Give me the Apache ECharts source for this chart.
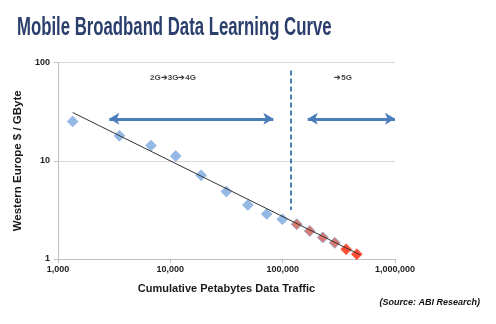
<!DOCTYPE html>
<html>
<head>
<meta charset="utf-8">
<script src="https://cdn.jsdelivr.net/npm/echarts@6/dist/echarts.min.js"></script>
<style>html,body{margin:0;padding:0;background:#fff}#c{width:496px;height:324px}</style>
</head>
<body>
<div id="c"></div>
<script>
// ---- data ----
var blueX = [1350, 3520, 6730, 11170, 18770, 31540, 49000, 72200, 99400];
var blueY = [25.2, 18.0, 14.3, 11.2, 7.14, 4.86, 3.56, 2.88, 2.54];
var redX = [133400, 174300, 227500, 291000];
var redY = [2.26, 1.93, 1.66, 1.46];
var brightRedX = [367000, 457000];
var brightRedY = [1.26, 1.12];
var trendX = [1350, 490000];
var trendY = [31.1, 1.1];
var dividerX = 117200;
var dividerY = [83.4, 3.16];
var arrowLeftX = [2864, 82600];
var arrowRightX = [167200, 999000];
var arrowY = 26.8;
var annotationText = ['2G\u27943G\u27944G', '\u27945G'];
var annotationX = [10570, 345000];
var annotationY = [70.3, 70.3];
var xTicks = [1000, 10000, 100000, 1000000];
var yTicks = [1, 10, 100];

function pairs(xs, ys) { return xs.map(function (x, i) { return [x, ys[i]]; }); }

var chart = echarts.init(document.getElementById('c'));
var font = 'Liberation Sans, Arial, sans-serif';
chart.setOption({
  animation: false,
  backgroundColor: '#fff',
  grid: { left: 58, right: 101, top: 62.7, bottom: 65 },
  xAxis: {
    type: 'log', logBase: 10, min: xTicks[0], max: xTicks[xTicks.length - 1],
    name: 'Cumulative Petabytes Data Traffic', nameLocation: 'middle', nameGap: 24,
    nameTextStyle: { fontFamily: font, fontWeight: 'bold', fontSize: 11, color: '#1a1a1a' },
    axisLine: { show: true, lineStyle: { color: '#bfbfbf', width: 1 } },
    axisTick: { show: true, length: 4, lineStyle: { color: '#bfbfbf' } },
    minorTick: { show: false },
    splitLine: { show: false },
    axisLabel: { fontFamily: font, fontWeight: 'bold', fontSize: 9, color: '#222', margin: 6,
      formatter: function (v) { return Math.round(v).toLocaleString('en-US'); } }
  },
  yAxis: {
    type: 'log', logBase: 10, min: yTicks[0], max: yTicks[yTicks.length - 1],
    name: 'Western Europe $ / GByte', nameLocation: 'middle', nameGap: 28, nameRotate: 90,
    nameTextStyle: { fontFamily: font, fontWeight: 'bold', fontSize: 11.5, color: '#1a1a1a' },
    axisLine: { show: true, lineStyle: { color: '#bfbfbf', width: 1 } },
    axisTick: { show: true, length: 4, lineStyle: { color: '#bfbfbf' } },
    splitLine: { show: true, lineStyle: { color: '#d9d9d9', width: 1 } },
    axisLabel: { fontFamily: font, fontWeight: 'bold', fontSize: 9, color: '#222', margin: 8 }
  },
  graphic: [
    { type: 'text', x: 17, y: 28, scaleX: 0.67, scaleY: 1,
      style: { text: 'Mobile Broadband Data Learning Curve', fontFamily: font, fontWeight: 'bold',
        fontSize: 25, fill: '#2b3e6c', textVerticalAlign: 'middle', textAlign: 'left' } },
    { type: 'text', x: 480, y: 303,
      style: { text: '(Source: ABI Research)', fontFamily: font, fontWeight: 'bold', fontStyle: 'italic',
        fontSize: 9, fill: '#111', textAlign: 'right', textVerticalAlign: 'middle' } }
  ],
  series: [
    {
      type: 'scatter', name: 'history', symbol: 'diamond', symbolSize: 11,
      itemStyle: { color: '#7aa8df', borderColor: '#6d9bd3', borderWidth: 0.5 },
      data: pairs(blueX, blueY), z: 3
    },
    {
      type: 'scatter', name: 'forecast', symbol: 'diamond', symbolSize: 11,
      itemStyle: { color: '#cf5a4c', borderColor: '#86a9d8', borderWidth: 1 },
      data: pairs(redX, redY), z: 3
    },
    {
      type: 'scatter', name: 'forecast2', symbol: 'diamond', symbolSize: 11,
      itemStyle: { color: '#ff2200', borderColor: '#e8331c', borderWidth: 0.5 },
      data: pairs(brightRedX, brightRedY), z: 3
    },
    {
      type: 'line', name: 'trend', symbol: 'none', z: 4, clip: false,
      lineStyle: { color: '#333', width: 1 },
      data: pairs(trendX, trendY),
      markLine: {
        silent: true, animation: false, symbol: 'none',
        label: { show: false },
        lineStyle: { color: '#4a7ebb', width: 2, type: [5, 3] },
        data: [[{ coord: [dividerX, dividerY[0]] }, { coord: [dividerX, dividerY[1]] }]]
      }
    },
    {
      type: 'line', name: 'arrows', symbol: 'none', clip: false, data: [],
      markLine: {
        silent: true, animation: false, symbol: ['arrow', 'arrow'], symbolSize: [9, 10],
        label: { show: false },
        lineStyle: { color: '#4a7ebb', width: 3, type: 'solid' },
        data: [
          [{ coord: [arrowLeftX[0], arrowY] }, { coord: [arrowLeftX[1], arrowY] }],
          [{ coord: [arrowRightX[0], arrowY] }, { coord: [arrowRightX[1], arrowY] }]
        ]
      }
    },
    {
      type: 'scatter', name: 'annotations', symbolSize: 0, clip: false,
      data: annotationX.map(function (x, i) { return { value: [x, annotationY[i]], name: annotationText[i] }; }),
      label: { show: true, position: 'inside', formatter: '{b}', fontFamily: font, fontWeight: 'bold',
        fontSize: 8, color: '#111' }
    }
  ]
});
</script>
</body>
</html>
